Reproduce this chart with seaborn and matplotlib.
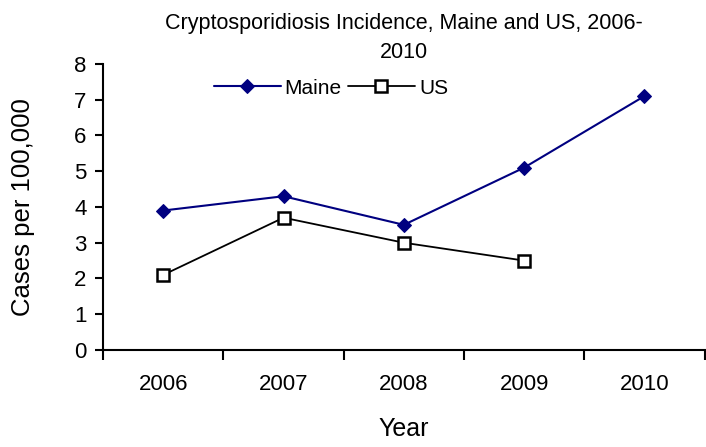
import matplotlib
matplotlib.use("Agg")
import matplotlib.pyplot as plt
import seaborn as sns
import pandas as pd
from matplotlib.ticker import FixedLocator

years = ["2006", "2007", "2008", "2009", "2010"]
maine = [3.9, 4.3, 3.5, 5.1, 7.1]
us = [2.1, 3.7, 3.0, 2.5]

sns.set_theme(style="white", rc={"text.color": "black", "axes.labelcolor": "black",
                                 "xtick.color": "black", "ytick.color": "black"})
plt.rcParams['font.family'] = ['Liberation Sans', 'DejaVu Sans']

df = pd.DataFrame({
    "pos": list(range(len(maine))) + list(range(len(us))),
    "value": maine + us,
    "series": ["Maine"] * len(maine) + ["US"] * len(us),
})

fig = plt.figure(figsize=(7.06, 4.47), dpi=100)
ax = fig.add_axes([0.146, 0.217, 0.852, 0.640])

sns.lineplot(data=df[df.series == "Maine"], x="pos", y="value", ax=ax,
             color="#000080", marker="D", markersize=7, markeredgecolor="#000080",
             linewidth=1.5, label="Maine")
sns.lineplot(data=df[df.series == "US"], x="pos", y="value", ax=ax,
             color="black", marker="s", markersize=9, markerfacecolor="white",
             markeredgecolor="black", markeredgewidth=1.8, linewidth=1.3, label="US")

ax.set_xlim(-0.5, len(years) - 0.5)
ax.set_ylim(0, 8)
ax.set_yticks(range(0, 9))
ax.xaxis.set_major_locator(FixedLocator([i - 0.5 for i in range(len(years) + 1)]))
ax.xaxis.set_minor_locator(FixedLocator(range(len(years))))
ax.set_xticklabels([])
ax.set_xticklabels(years, minor=True)
ax.tick_params(axis="x", which="major", direction="out", length=7, width=1.5, bottom=True)
ax.tick_params(axis="x", which="minor", length=0, pad=17, labelsize=16)
ax.tick_params(axis="y", direction="out", length=6, width=1.5, left=True, labelsize=16, pad=6)

for s in ["top", "right"]:
    ax.spines[s].set_visible(False)
for s in ["left", "bottom"]:
    ax.spines[s].set_color("black")
    ax.spines[s].set_linewidth(1.5)

ax.set_xlabel("Year", fontsize=18, labelpad=16)
ax.set_ylabel("Cases per 100,000", fontsize=18.5, labelpad=28)
ax.set_title("Cryptosporidiosis Incidence, Maine and US, 2006-\n2010", fontsize=15.5, pad=4, linespacing=1.5)

ax.legend(loc="upper left", bbox_to_anchor=(0.16, 1.0), ncol=2, frameon=False,
          fontsize=15, handlelength=3.2, columnspacing=0.3, handletextpad=0.2, borderaxespad=0.3)

fig.savefig("out.png", dpi=100)
